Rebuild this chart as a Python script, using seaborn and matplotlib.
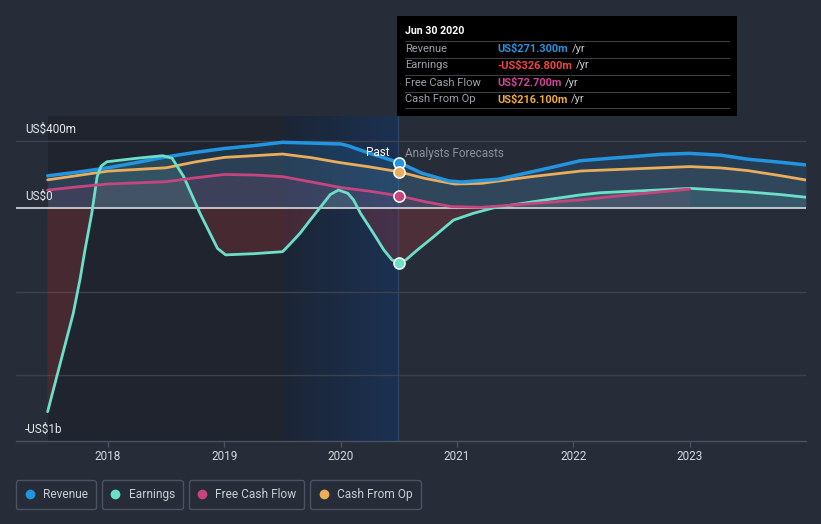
import numpy as np
import pandas as pd
import matplotlib
matplotlib.use("Agg")
import matplotlib.pyplot as plt
from matplotlib.lines import Line2D
from matplotlib.patches import Rectangle
from matplotlib.colors import to_rgb
import seaborn as sns

# ---------------- data (US$ m, x in decimal years) ----------------
rev_x = [2017.48, 2017.75, 2018.0, 2018.25, 2018.5, 2018.75, 2019.0, 2019.25, 2019.5, 2019.75,
         2020.0, 2020.06, 2020.25, 2020.5, 2020.7, 2020.93, 2021.04, 2021.35, 2021.78, 2022.06,
         2022.32, 2022.5, 2022.75, 2023.0, 2023.27, 2023.5, 2023.78, 2024.0]
rev_y = [192, 215, 240, 272, 305, 332, 355, 372, 392, 387,
         382, 372, 326, 271.3, 207, 161, 155, 171, 237, 282,
         297, 306, 320, 326, 315, 291, 273, 257]

earn_x = [2017.48, 2017.70, 2017.76, 2017.80, 2017.86, 2017.905, 2017.94, 2017.99, 2018.25,
          2018.47, 2018.55, 2018.65, 2018.79, 2018.94, 2019.01, 2019.25, 2019.50, 2019.57, 2019.65,
          2019.74, 2019.82, 2019.91, 2019.98, 2020.06, 2020.11, 2020.17, 2020.28, 2020.37, 2020.44,
          2020.50, 2020.56, 2020.66, 2020.80, 2020.97, 2021.14, 2021.31, 2021.66, 2022.06, 2022.23,
          2022.60, 2023.01, 2023.50, 2023.78, 2024.0]
earn_y = [-1216, -630, -420, -255, -30, 185, 250, 276, 297,
          312, 297, 187, -32, -241, -280, -273, -261, -211, -151,
          -70, 0, 80, 107, 88, 48, -32, -150, -250, -310,
          -326.8, -310, -250, -171, -72, -32, 0, 38, 78, 91,
          103, 117, 96, 80, 64]

fcf_x = [2017.48, 2017.75, 2018.0, 2018.25, 2018.5, 2018.75, 2019.0, 2019.25, 2019.5, 2019.75,
         2020.0, 2020.25, 2020.5, 2020.72, 2020.95, 2021.21, 2022.06, 2022.5, 2023.0]
fcf_y = [107, 127, 143, 150, 157, 180, 200, 197, 187, 155,
         122, 100, 72.7, 38, 8, 4, 48, 80, 113]

cfo_x = [2017.48, 2017.75, 2018.0, 2018.25, 2018.5, 2018.75, 2019.0, 2019.25, 2019.5, 2019.75,
         2020.0, 2020.25, 2020.5, 2020.72, 2020.98, 2021.21, 2021.64, 2022.07, 2022.5, 2023.0,
         2023.27, 2023.5, 2023.78, 2024.0]
cfo_y = [168, 195, 220, 230, 240, 275, 302, 312, 322, 300,
         270, 245, 216.1, 177, 143, 147, 187, 221, 233, 247,
         239, 223, 193, 167]

series_names = ["Revenue", "Earnings", "Free Cash Flow", "Cash From Op"]
tooltip_values = ["US$271.300m", "-US$326.800m", "US$72.700m", "US$216.100m"]
marker_values = [271.3, -326.8, 72.7, 216.1]
year_ticks = [2018, 2019, 2020, 2021, 2022, 2023]
ytick_labels = ["US$400m", "US$0", "-US$1b"]
now_x = 2020.5

# ---------------- style ----------------
W, H = 821, 524
BG = "#262c38"
REV, EARN, FCF, CFO = "#2394df", "#6be0c9", "#c5457e", "#e9ad5b"
colors = [REV, EARN, FCF, CFO]

sns.set_theme(style="dark", rc={"axes.facecolor": BG, "figure.facecolor": BG})
plt.rcParams["font.family"] = ["Roboto", "DejaVu Sans"]

fig = plt.figure(figsize=(W / 100, H / 100), dpi=100)
fig.patch.set_facecolor(BG)
ax = fig.add_axes([16 / W, 1 - 441 / H, (806 - 16) / W, (441 - 116) / H])
ax.set_facecolor(BG)

YMIN, YMAX = -1391, 549
XMIN, XMAX = 2017.208, 2024.0
ax.set_xlim(XMIN, XMAX)
ax.set_ylim(YMIN, YMAX)

# background bands
ax.axvspan(2017.48, 2019.5, color="#1f242e", zorder=0, lw=0)
c0, c1 = np.array(to_rgb("#1c2535")), np.array(to_rgb("#1b3152"))
grad = np.linspace(0, 1, 64)[None, :, None]
img = c0 + (c1 - c0) * grad
ax.imshow(img, extent=[2019.5, 2020.49, YMIN, YMAX], aspect="auto", zorder=0.1)
ax.axvline(2020.49, color="#2c4466", lw=1, zorder=0.2)

# gridlines
for v in [400, -500, -1000]:
    ax.axhline(v, color="#3b414d", lw=1, zorder=0.3)

# fills
def fill(x, y, c, a):
    x = np.asarray(x, float); y = np.asarray(y, float)
    ax.fill_between(x, y, 0, where=y >= 0, interpolate=True, color=c, alpha=a, lw=0, zorder=1)

fill(rev_x, rev_y, REV, 0.16)
fill(cfo_x, cfo_y, "#9aa3ad", 0.10)
fill(fcf_x, fcf_y, FCF, 0.12)
fill(earn_x, earn_y, EARN, 0.12)
ex = np.asarray(earn_x, float); ey = np.asarray(earn_y, float)
ax.fill_between(ex, ey, 0, where=ey <= 0, interpolate=True, color="#b0393f", alpha=0.28, lw=0, zorder=1)

ax.axhline(0, color="#c9cdd3", lw=1.3, zorder=1.5)

# lines
data = pd.concat([
    pd.DataFrame({"x": rev_x, "y": rev_y, "s": "Revenue"}),
    pd.DataFrame({"x": cfo_x, "y": cfo_y, "s": "Cash From Op"}),
    pd.DataFrame({"x": earn_x, "y": earn_y, "s": "Earnings"}),
    pd.DataFrame({"x": fcf_x, "y": fcf_y, "s": "Free Cash Flow"}),
])
for name, c, lw in [("Cash From Op", CFO, 2.0), ("Revenue", REV, 2.5),
                    ("Earnings", EARN, 2.0), ("Free Cash Flow", FCF, 2.0)]:
    sns.lineplot(data=data[data.s == name], x="x", y="y", ax=ax, color=c, lw=lw,
                 estimator=None, sort=True, legend=False, zorder=3,
                 solid_joinstyle="round", solid_capstyle="round")

# markers at the present
for v, c in zip(marker_values, colors):
    ax.plot([now_x], [v], marker="o", ms=8, mfc=c, mec="white", mew=1.1, zorder=5, ls="")

# axes styling
for s in ["top", "right", "left"]:
    ax.spines[s].set_visible(False)
ax.spines["bottom"].set_color("#4a5160")
ax.spines["bottom"].set_linewidth(1)
ax.set_xticks(year_ticks)
ax.set_xticklabels([str(t) for t in year_ticks])
ax.set_yticks([])
ax.tick_params(axis="x", colors="#4a5160", length=4, width=1, labelcolor="#d5d9e0",
               labelsize=8.5, pad=2.5, bottom=True)
ax.set_xlabel(""); ax.set_ylabel("")
ax.grid(False)

def fx(x): return x / W
def fy(y): return 1 - y / H

# y labels
for lab, ypx in zip(ytick_labels, [129, 196, 429]):
    fig.text(fx(25), fy(ypx), lab, color="#e6e8ec", fontsize=8.5, va="center", ha="left")

# Past / forecasts labels
fig.text(fx(389), fy(153), "Past", color="#ffffff", fontsize=8.5, ha="right", va="center")
fig.text(fx(405), fy(153), "Analysts Forecasts", color="#8c929c", fontsize=8.5, ha="left", va="center")

# tooltip
fig.patches.append(Rectangle((fx(397), fy(116)), 340 / W, 100 / H, transform=fig.transFigure,
                             facecolor="#000000", edgecolor="none", zorder=10))
fig.text(fx(405), fy(31), "Jun 30 2020", color="#ffffff", fontsize=7.7, fontweight="bold",
         ha="left", va="center", zorder=11)
for yl in [40.5, 57.5, 74.5, 91.5, 108.5]:
    fig.add_artist(Line2D([fx(405), fx(729)], [fy(yl), fy(yl)], color="#3a3d44", lw=0.8, zorder=11))
value_colors = [REV, "#ef4444", "#d2449a", "#f0ac3c"]
fig.canvas.draw()
renderer = fig.canvas.get_renderer()
for i, (name, val, vc) in enumerate(zip(series_names, tooltip_values, value_colors)):
    ypx = 48.5 + 17 * i
    fig.text(fx(405), fy(ypx), name, color="#9ba1ab", fontsize=8, ha="left", va="center", zorder=11)
    t = fig.text(fx(497), fy(ypx), val, color=vc, fontsize=7.9, fontweight="bold",
                 ha="left", va="center", zorder=11)
    bb = t.get_window_extent(renderer=renderer)
    fig.text(bb.x1 / W + 4 / W, fy(ypx), "/yr", color="#c8cbd0", fontsize=8,
             ha="left", va="center", zorder=11)

# legend boxes, placed one after another
x0 = 16
for name, c in zip(series_names, colors):
    h = Line2D([], [], marker="o", color=c, ls="", markersize=6)
    lg = fig.legend(handles=[h], labels=[name], loc="lower left",
                    bbox_to_anchor=(fx(x0), fy(509)), frameon=True, fancybox=True,
                    facecolor=BG, edgecolor="#4b5262", labelcolor="#c9ced6", fontsize=8.6,
                    handletextpad=0.6, borderpad=0.65, handlelength=1.0, borderaxespad=0)
    lg.get_frame().set_linewidth(1)
    lg.get_frame().set_alpha(1)
    fig.canvas.draw()
    bb = lg.get_window_extent(renderer=fig.canvas.get_renderer())
    x0 = bb.x1 + 6

fig.savefig("out.png", dpi=100, facecolor=BG)
